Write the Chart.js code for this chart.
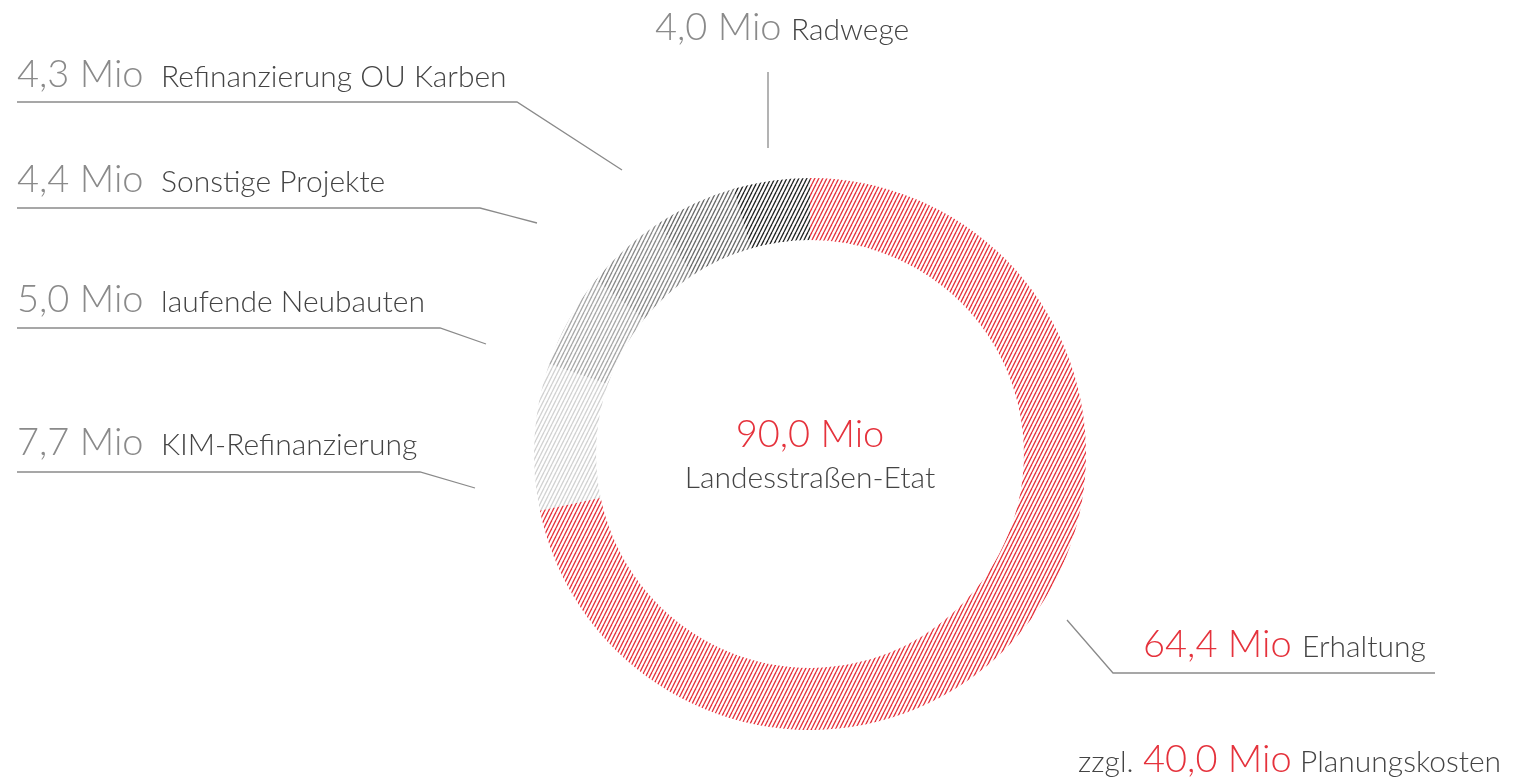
<!DOCTYPE html>
<html>
<head>
<meta charset="utf-8">
<script src="https://cdn.jsdelivr.net/npm/chart.js@4"></script>
<style>
  html, body { margin: 0; padding: 0; background: #fff; }
  #wrap { position: relative; width: 1513px; height: 784px; }
  #chart { position: absolute; left: 0; top: 0; }
  svg { position: absolute; left: 0; top: 0; }
  text { font-family: "Lato", "Noto Sans", sans-serif; font-weight: 300; }
</style>
</head>
<body>
<div id="wrap">
  <canvas id="chart" width="1513" height="784"></canvas>
  <svg id="ov" width="1513" height="784" xmlns="http://www.w3.org/2000/svg"></svg>
</div>
<script>
// ---- data ----
const categories = ['Erhaltung', 'KIM-Refinanzierung', 'laufende Neubauten', 'Sonstige Projekte', 'Refinanzierung OU Karben', 'Radwege'];
const amounts = [64.4, 7.7, 5.0, 4.4, 4.3, 4.0];
const totalBudget = 90.0;
const planningCosts = 40.0;
const unit = 'Mio';
const centerLabel = 'Landesstraßen-Etat';
const extraPrefix = 'zzgl.';
const extraLabel = 'Planungskosten';

// ---- styles ----
const segmentColors = ['#e5323c', '#d2d2d2', '#a8a8a8', '#8a8a8a', '#6a6a6a', '#222222'];
const RED = '#e5323c';
const NUM_GRAY = '#8a8a8a';
const TXT_GRAY = '#444444';
const LINE_GRAY = '#8a8a8a';
const NUM_SIZE = 38;
const TXT_SIZE = 30;

function fmt(v) { return v.toFixed(1).replace('.', ',') + ' ' + unit; }

function hatch(color) {
  const c = document.createElement('canvas');
  c.width = 4; c.height = 8;
  const g = c.getContext('2d');
  g.strokeStyle = color;
  g.lineWidth = 1.3;
  for (const dx of [-4, 0, 4]) {
    g.beginPath();
    g.moveTo(dx, 8);
    g.lineTo(dx + 4, 0);
    g.stroke();
  }
  return g.createPattern(c, 'repeat');
}

const ctx = document.getElementById('chart').getContext('2d');
new Chart(ctx, {
  type: 'doughnut',
  data: {
    labels: categories,
    datasets: [{
      data: amounts,
      backgroundColor: segmentColors.map(hatch),
      borderWidth: 0
    }]
  },
  options: {
    responsive: false,
    animation: false,
    cutout: '77.5%',
    rotation: 0,
    layout: { padding: { left: 534, right: 427, top: 178, bottom: 54 } },
    plugins: { legend: { display: false }, tooltip: { enabled: false } }
  }
});

// ---- labels (layout) ----
const NS = 'http://www.w3.org/2000/svg';
const svg = document.getElementById('ov');
function el(tag, attrs, txt) {
  const e = document.createElementNS(NS, tag);
  for (const k in attrs) e.setAttribute(k, attrs[k]);
  if (txt !== undefined) e.textContent = txt;
  svg.appendChild(e);
  return e;
}
function label(y, parts, anchor) {
  const t = el('text', { y: y, 'text-anchor': anchor || 'start' });
  parts.forEach(p => {
    const s = document.createElementNS(NS, 'tspan');
    s.setAttribute('fill', p.c);
    s.setAttribute('font-size', p.s);
    s.setAttribute('x', p.x);
    s.setAttribute('y', y);
    if (p.len) { s.setAttribute('textLength', p.len); s.setAttribute('lengthAdjust', 'spacingAndGlyphs'); }
    s.textContent = p.t;
    t.appendChild(s);
  });
}
function line(pts) {
  el('polyline', { points: pts.map(p => p.join(',')).join(' '), fill: 'none', stroke: LINE_GRAY, 'stroke-width': 1.3 });
}

// index -> layout
const layoutLeft = [
  { i: 4, y: 87, line: [[17, 102], [517, 102], [622, 170]] },
  { i: 3, y: 192, line: [[17, 208], [480, 208], [537, 223]] },
  { i: 2, y: 312, line: [[17, 328], [440, 328], [486, 344]] },
  { i: 1, y: 455, line: [[17, 472], [420, 472], [475, 488]] }
];
layoutLeft.forEach(L => {
  label(L.y, [{ t: fmt(amounts[L.i]), c: NUM_GRAY, s: NUM_SIZE, x: 17 }, { t: categories[L.i], c: TXT_GRAY, s: TXT_SIZE, x: 161 }]);
  line(L.line);
});
// Radwege (top)
label(40, [{ t: fmt(amounts[5]), c: NUM_GRAY, s: NUM_SIZE, x: 655 }, { t: categories[5], c: TXT_GRAY, s: TXT_SIZE, x: 791 }]);
line([[768, 72], [768, 148]]);
// Erhaltung
label(657, [{ t: fmt(amounts[0]), c: RED, s: NUM_SIZE, x: 1143 }, { t: categories[0], c: TXT_GRAY, s: TXT_SIZE, x: 1302 }]);
line([[1067, 620], [1113, 673], [1435, 673]]);
// center
label(447, [{ t: fmt(totalBudget), c: RED, s: NUM_SIZE, x: 810 }], 'middle');
label(488, [{ t: centerLabel, c: TXT_GRAY, s: TXT_SIZE, x: 810 }], 'middle');
// planning costs
label(772, [
  { t: extraPrefix, c: TXT_GRAY, s: TXT_SIZE, x: 1078 },
  { t: fmt(planningCosts), c: RED, s: NUM_SIZE, x: 1143 },
  { t: extraLabel, c: TXT_GRAY, s: TXT_SIZE, x: 1300 }
]);
</script>
</body>
</html>
